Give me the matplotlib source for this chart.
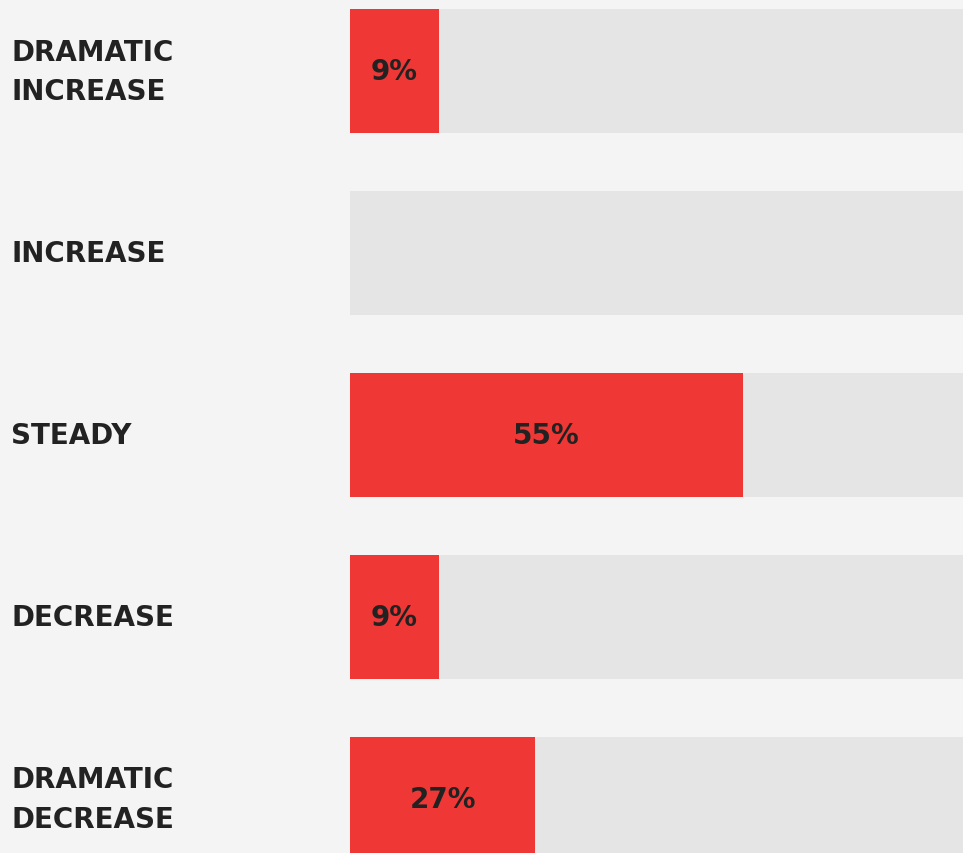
import numpy as np
import matplotlib
matplotlib.use("Agg")
import matplotlib.pyplot as plt

# categories, top to bottom
categories = ["DRAMATIC\nINCREASE", "INCREASE", "STEADY", "DECREASE", "DRAMATIC\nDECREASE"]
percent = [9, 0, 55, 9, 27]
# red bar length as a share of the grey track
bar_share = [0.145, 0.0, 0.641, 0.145, 0.302]

BG = "#f4f4f4"
TRACK = "#e5e5e5"
RED = "#ef3835"
INK = "#222222"

W, H = 963, 854
fig = plt.figure(figsize=(W / 100, H / 100), dpi=100, facecolor=BG)

# track axes: from x=350px to the right edge, full height
ax = fig.add_axes([350 / W, 0, 1 - 350 / W, 1])
ax.set_facecolor(BG)

y = np.arange(len(categories))
step = 182.0        # px between row centres
first = 72.0        # px from top to first row centre
ax.set_xlim(0, 1)
ax.set_ylim((H - first) / step, -first / step)
bh = 124 / step

ax.barh(y, [1.0] * len(y), height=bh, color=TRACK, linewidth=0)
ax.barh(y, bar_share, height=bh, color=RED, linewidth=0)

for yi, p, s in zip(y, percent, bar_share):
    if p > 0:
        ax.text(s / 2, yi, f"{p}%", ha="center", va="center",
                fontsize=20, fontweight="bold", color=INK)

for s in ax.spines.values():
    s.set_visible(False)
ax.set_xticks([])
ax.set_yticks([])

# category labels in the left margin, aligned with the rows
for yi, lab in zip(y, categories):
    yd = ax.transData.transform((0, yi))[1]
    yf = fig.transFigure.inverted().transform((0, yd))[1]
    fig.text(11 / W, yf, lab, ha="left", va="center", fontsize=20,
             fontweight="bold", color=INK, linespacing=1.5)

fig.savefig("out.png", dpi=100, facecolor=BG)
